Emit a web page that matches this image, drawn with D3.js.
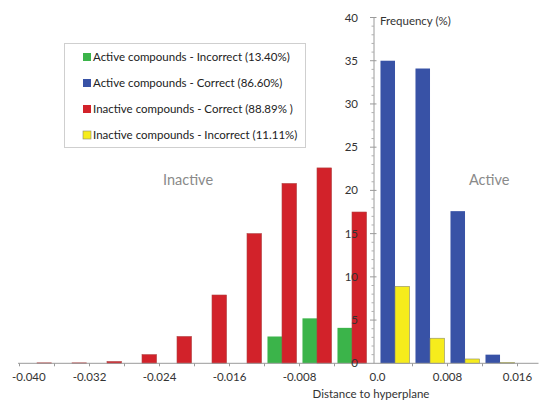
<!DOCTYPE html>
<html>
<head>
<meta charset="utf-8">
<script src="https://cdn.jsdelivr.net/npm/d3@7/dist/d3.min.js"></script>
<style>
  html, body { margin: 0; padding: 0; background: #fff; }
  svg { display: block; }
  text { font-family: Lato, "Open Sans", sans-serif; }
</style>
</head>
<body>
<svg id="chart" width="540" height="402"></svg>
<script>
// Histogram bins (bin centres, width 0.004) and frequencies (%)
const binWidth = 0.004;

const inactiveCorrectBins   = [-0.038, -0.034, -0.030, -0.026, -0.022, -0.018, -0.014, -0.010, -0.006, -0.002];
const inactiveCorrectValues = [0.05, 0.05, 0.2, 1.0, 3.1, 7.9, 15.0, 20.8, 22.6, 17.5];

const activeIncorrectBins   = [-0.010, -0.006, -0.002];
const activeIncorrectValues = [3.1, 5.2, 4.1];

const activeCorrectBins     = [0.002, 0.006, 0.010, 0.014];
const activeCorrectValues   = [35.0, 34.1, 17.6, 1.0];

const inactiveIncorrectBins   = [0.002, 0.006, 0.010, 0.014];
const inactiveIncorrectValues = [8.9, 2.9, 0.5, 0.1];

const xTickValues = [-0.040, -0.032, -0.024, -0.016, -0.008, 0, 0.008, 0.016];
const xTickLabels = ["-0.040", "-0.032", "-0.024", "-0.016", "-0.008", "0.0", "0.008", "0.016"];
const yTickValues = [0, 5, 10, 15, 20, 25, 30, 35, 40];

const legendItems = [
  { label: "Active compounds - Incorrect (13.40%)", color: "#3bb44a" },
  { label: "Active compounds - Correct (86.60%)",   color: "#3852a6" },
  { label: "Inactive compounds - Correct (88.89% )", color: "#d2222a" },
  { label: "Inactive compounds - Incorrect (11.11%)", color: "#f6ec1c" }
];

const series = [
  { bins: activeIncorrectBins,   values: activeIncorrectValues,   color: "#3bb44a", slot: "a", stroke: "none" },
  { bins: inactiveCorrectBins,   values: inactiveCorrectValues,   color: "#d2222a", slot: "b", stroke: "#b04040" },
  { bins: activeCorrectBins,     values: activeCorrectValues,     color: "#3852a6", slot: "a", stroke: "none" },
  { bins: inactiveIncorrectBins, values: inactiveIncorrectValues, color: "#f6ec1c", slot: "b", stroke: "#8a8a70" }
];

const svg = d3.select("#chart");

// Split x axis: a small gap either side of zero where the frequency axis sits
const xNeg = d3.scaleLinear().domain([-0.040, 0]).range([19.5, 369.5]);
const xPos = d3.scaleLinear().domain([0, 0.0185]).range([377.5, 539.4]);
const x = v => (v < 0 ? xNeg(v) : xPos(v));
const y = d3.scaleLinear().domain([0, 40]).range([363.3, 17.5]);
const yAxisX = 374;

const binPx = xPos(binWidth) - xPos(0);
const slot = d3.scaleBand().domain(["a", "b"]).range([-binPx * 0.415, binPx * 0.415]).padding(0);

// Bars
series.forEach(s => {
  svg.append("g").selectAll("rect")
    .data(s.bins.map((b, i) => ({ b, v: s.values[i] })))
    .join("rect")
    .attr("x", d => x(d.b) + slot(s.slot))
    .attr("width", slot.bandwidth())
    .attr("y", d => y(d.v))
    .attr("height", d => y(0) - y(d.v))
    .attr("fill", s.color)
    .attr("stroke", s.stroke)
    .attr("stroke-width", s.stroke === "none" ? 0 : 0.6);
});

// X axis line and bin-edge ticks
const axisColor = "#9a9a9a";
svg.append("line")
  .attr("x1", 18).attr("x2", 538.5)
  .attr("y1", y(0)).attr("y2", y(0))
  .attr("stroke", axisColor).attr("stroke-width", 1);

const binEdges = inactiveCorrectBins.map(c => c - binWidth / 2)
  .concat(activeCorrectBins.map(c => c + binWidth / 2));
svg.append("g").selectAll("line")
  .data(binEdges)
  .join("line")
  .attr("x1", d => x(d)).attr("x2", d => x(d))
  .attr("y1", y(0)).attr("y2", y(0) + 3)
  .attr("stroke", axisColor);

// X tick labels
const xLabels = svg.append("g").selectAll("text")
  .data(xTickValues)
  .join("text")
  .attr("x", d => x(d))
  .attr("y", 381)
  .attr("text-anchor", "middle")
  .attr("font-size", 11.5)
  .attr("fill", "#333")
  .text((d, i) => xTickLabels[i]);
// keep the outermost label inside the drawing area
xLabels.each(function () {
  const bb = this.getBBox();
  if (bb.x < 12) d3.select(this).attr("x", +d3.select(this).attr("x") + (12 - bb.x));
});

svg.append("text")
  .attr("x", 371).attr("y", 398)
  .attr("text-anchor", "middle")
  .attr("font-size", 11.5)
  .attr("fill", "#333")
  .text("Distance to hyperplane");

// Y axis with minor ticks
svg.append("line")
  .attr("x1", yAxisX).attr("x2", yAxisX)
  .attr("y1", y(0)).attr("y2", y(40))
  .attr("stroke", axisColor);

const minorTicks = d3.range(0, 41).filter(v => v % 5 !== 0);
svg.append("g").selectAll("line")
  .data(minorTicks)
  .join("line")
  .attr("x1", yAxisX - 2.5).attr("x2", yAxisX)
  .attr("y1", d => y(d)).attr("y2", d => y(d))
  .attr("stroke", "#b0b0b0");

svg.append("g").selectAll("line")
  .data(yTickValues.filter(v => v > 0))
  .join("line")
  .attr("x1", yAxisX - 4).attr("x2", yAxisX + 2.5)
  .attr("y1", d => y(d)).attr("y2", d => y(d))
  .attr("stroke", axisColor);

svg.append("g").selectAll("text")
  .data(yTickValues)
  .join("text")
  .attr("x", 358)
  .attr("y", d => y(d) + 4)
  .attr("text-anchor", "end")
  .attr("font-size", 11.5)
  .attr("fill", "#333")
  .text(d => d);

svg.append("text")
  .attr("x", 380).attr("y", 25)
  .attr("font-size", 11.5)
  .attr("fill", "#333")
  .text("Frequency (%)");

// Region labels
svg.append("text")
  .attr("x", 163).attr("y", 185)
  .attr("font-size", 14.5)
  .attr("fill", "#8a8a8a")
  .text("Inactive");
svg.append("text")
  .attr("x", 469).attr("y", 185)
  .attr("font-size", 14.5)
  .attr("fill", "#8a8a8a")
  .text("Active");

// Legend
const legend = svg.append("g");
legend.append("rect")
  .attr("x", 64.5).attr("y", 43.5)
  .attr("width", 241).attr("height", 104)
  .attr("fill", "#fff")
  .attr("stroke", "#cfcfcf");
const rows = legend.selectAll("g.item")
  .data(legendItems)
  .join("g")
  .attr("class", "item")
  .attr("transform", (d, i) => `translate(83, ${57 + i * 26})`);
rows.append("rect")
  .attr("x", 0).attr("y", -4)
  .attr("width", 8).attr("height", 8)
  .attr("fill", d => d.color)
  .attr("stroke", (d, i) => i === 3 ? "#8a8a70" : "none")
  .attr("stroke-width", 0.6);
rows.append("text")
  .attr("x", 10).attr("y", 4)
  .attr("font-size", 11.5)
  .attr("fill", "#222")
  .text(d => d.label);
</script>
</body>
</html>
